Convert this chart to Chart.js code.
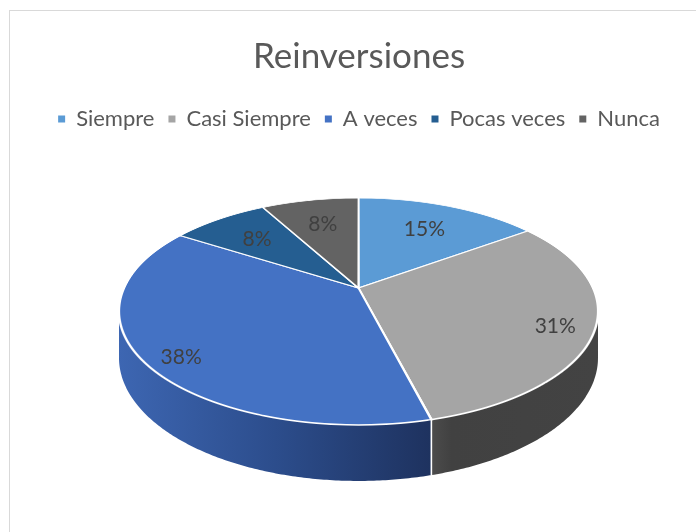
<!DOCTYPE html>
<html><head><meta charset="utf-8">
<script src="https://cdn.jsdelivr.net/npm/chart.js@4.4.1/dist/chart.umd.min.js"></script>
<style>html,body{margin:0;padding:0;background:#fff;overflow:hidden}canvas{display:block}</style>
</head><body>
<canvas id="c" width="696" height="532"></canvas>
<script>
// ---- data ----
const chartTitle = 'Reinversiones';
const categories = ['Siempre', 'Casi Siempre', 'A veces', 'Pocas veces', 'Nunca'];
const values = [15, 31, 38, 8, 8];

// ---- style ----
const sliceColors = ['#5B9BD5', '#A5A5A5', '#4472C4', '#255E91', '#636363'];
const wallShades = [
  ['#4d86ba', '#3b6c99'],
  ['#4c4c4c', '#414141', '#434343'],
  ['#3d66b2', '#2c4d8c', '#1e325f'],
  ['#22548a', '#183e66'],
  ['#555555', '#454545']
];
// projection of the pie disc (Excel-like perspective)
const PROJ = { cx: 358.5, cy: 288, A: 234.3, B: 108.6, r: -0.207, D0: 44.4 };

function proj(u, v) {
  const k = 1 / (1 + PROJ.r * v);
  return { x: PROJ.cx + PROJ.A * u * k, y: PROJ.cy + PROJ.B * v * k };
}
function vOfY(Y) {
  const d = Y - PROJ.cy;
  return d / (PROJ.B - PROJ.r * d);
}

const total = values.reduce((a, b) => a + b, 0);

const pie3d = {
  id: 'pie3d',
  beforeDraw(chart) {
    const ctx = chart.ctx;
    ctx.save();
    ctx.fillStyle = '#ffffff';
    ctx.fillRect(0, 0, chart.width, chart.height);
    ctx.strokeStyle = '#D9D9D9';
    ctx.lineWidth = 1;
    ctx.strokeRect(9.5, 10.5, chart.width + 40, chart.height + 40);
    ctx.restore();
  },
  beforeDatasetsDraw(chart) {
    const ctx = chart.ctx;
    const arcs = chart.getDatasetMeta(0).data;
    if (!arcs.length) return false;
    const R = arcs[0].outerRadius, ax = arcs[0].x, ay = arcs[0].y;
    const base = ctx.getTransform();

    // --- side walls ---
    const aMin = Math.asin(-PROJ.r), aMax = Math.PI - aMin;
    arcs.forEach((arc, i) => {
      const s = Math.max(arc.startAngle, aMin), e = Math.min(arc.endAngle, aMax);
      if (e <= s) return;
      const n = Math.max(4, Math.ceil((e - s) / 0.01));
      const top = [], bot = [];
      for (let k = 0; k <= n; k++) {
        const a = s + (e - s) * k / n;
        const u = Math.cos(a), v = Math.sin(a);
        const p = proj(u, v);
        top.push(p);
        bot.push({ x: p.x, y: p.y + PROJ.D0 / (1 + PROJ.r * v) });
      }
      ctx.save();
      ctx.beginPath();
      top.forEach((p, k) => k ? ctx.lineTo(p.x, p.y) : ctx.moveTo(p.x, p.y));
      for (let k = bot.length - 1; k >= 0; k--) ctx.lineTo(bot[k].x, bot[k].y);
      ctx.closePath();
      const xs = top.map(p => p.x);
      const x0 = Math.min(...xs), x1 = Math.max(...xs);
      const g = ctx.createLinearGradient(x0, 0, x1, 0);
      const sh = wallShades[i];
      if (sh.length === 3 && i === 1) {
        g.addColorStop(0, sh[0]); g.addColorStop(0.12, sh[1]); g.addColorStop(1, sh[2]);
      } else {
        sh.forEach((c, k) => g.addColorStop(k / (sh.length - 1), c));
      }
      ctx.fillStyle = g;
      ctx.fill();
      ctx.restore();
    });
    // wall separators
    arcs.forEach(arc => {
      const a = arc.startAngle;
      if (a > aMin && a < aMax) {
        const u = Math.cos(a), v = Math.sin(a);
        const p = proj(u, v);
        ctx.save();
        ctx.strokeStyle = '#ffffff';
        ctx.lineWidth = 1.6;
        ctx.beginPath();
        ctx.moveTo(p.x, p.y);
        ctx.lineTo(p.x, p.y + PROJ.D0 / (1 + PROJ.r * v));
        ctx.stroke();
        ctx.restore();
      }
    });

    // --- top face, drawn strip by strip in perspective ---
    const W = chart.width;
    const yTop = Math.floor(PROJ.cy - PROJ.B / (1 - PROJ.r)) - 3;
    const yBot = Math.ceil(PROJ.cy + PROJ.B / (1 + PROJ.r)) + 3;
    for (let Y = yTop; Y < yBot; Y++) {
      const v0 = vOfY(Y), v1 = vOfY(Y + 1), vm = vOfY(Y + 0.5);
      const sx = PROJ.A / (R * (1 + PROJ.r * vm));
      const sy = 1 / ((v1 - v0) * R);
      const tx = PROJ.cx - ax * sx;
      const ty = Y - sy * (ay + v0 * R);
      ctx.save();
      ctx.beginPath();
      ctx.rect(0, Y, W, 1);
      ctx.clip();
      ctx.setTransform(base.multiply(new DOMMatrix([sx, 0, 0, sy, tx, ty])));
      arcs.forEach(a => a.draw(ctx));
      ctx.restore();
    }

    // --- data labels ---
    ctx.save();
    ctx.font = '21px Lato';
    ctx.fillStyle = '#404040';
    ctx.textAlign = 'center';
    ctx.textBaseline = 'middle';
    arcs.forEach((arc, i) => {
      const frac = values[i] / total;
      const f = frac < 0.2 ? 0.7 : 0.84;
      const mid = (arc.startAngle + arc.endAngle) / 2;
      const u = f * Math.cos(mid), v = f * Math.sin(mid);
      const p = proj(u, v);
      const dy = 0.3 * 56 * Math.max(0, v) + 1;
      ctx.fillText(Math.round(frac * 100) + '%', p.x, p.y + dy);
    });
    ctx.restore();
    return false;
  }
};

const defaultGen = Chart.overrides.pie.plugins.legend.labels.generateLabels;

new Chart(document.getElementById('c'), {
  type: 'pie',
  data: {
    labels: categories,
    datasets: [{
      data: values,
      backgroundColor: sliceColors,
      borderColor: '#ffffff',
      borderWidth: 1.8,
      borderJoinStyle: 'round'
    }]
  },
  options: {
    responsive: false,
    animation: false,
    events: [],
    layout: { padding: { left: 22, right: 0, top: 0, bottom: 0 } },
    plugins: {
      title: {
        display: true,
        text: chartTitle,
        color: '#595959',
        font: { family: 'Lato', size: 35, weight: 'normal' },
        padding: { top: 36, bottom: 16 }
      },
      legend: {
        display: true,
        position: 'top',
        labels: {
          color: '#595959',
          font: { family: 'Lato', size: 22 },
          boxWidth: 7,
          boxHeight: 7,
          padding: 14,
          generateLabels(chart) {
            return defaultGen(chart).map(l => Object.assign(l, { lineWidth: 0 }));
          }
        }
      },
      tooltip: { enabled: false }
    }
  },
  plugins: [pie3d]
});
</script>
</body></html>
